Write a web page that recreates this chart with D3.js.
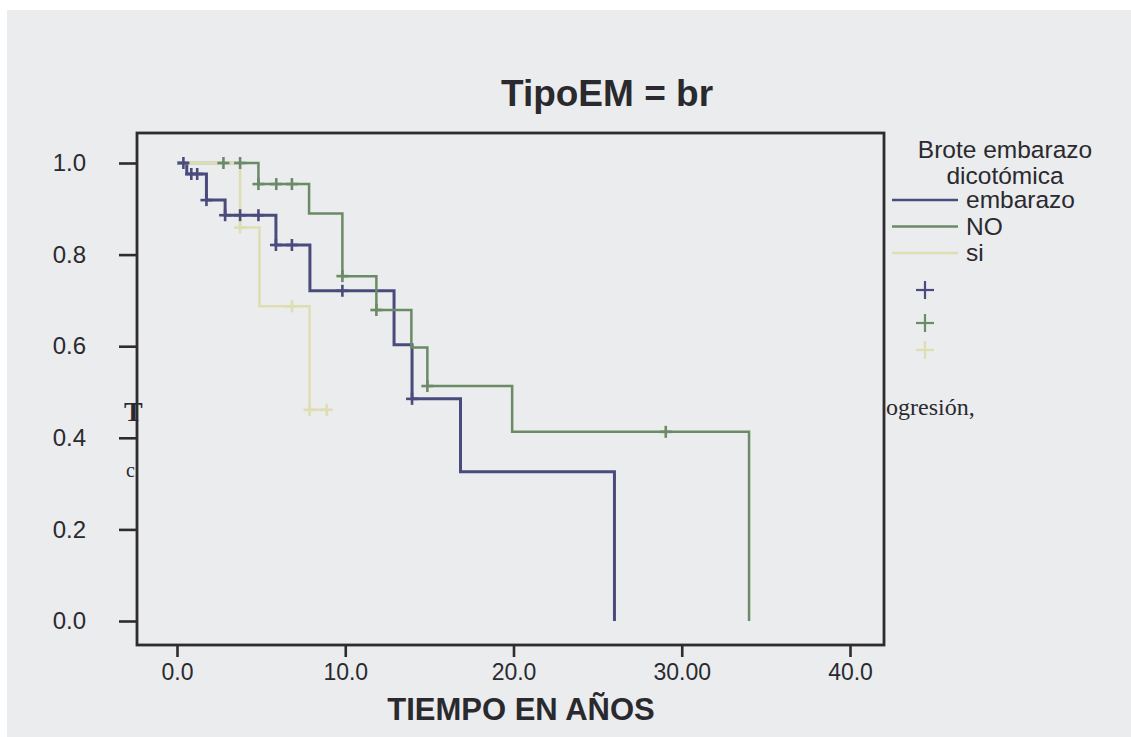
<!DOCTYPE html>
<html>
<head>
<meta charset="utf-8">
<script src="https://cdn.jsdelivr.net/npm/d3@7"></script>
<style>
  html, body { margin: 0; padding: 0; background: #ffffff; }
  #chart { width: 1131px; height: 737px; }
  text { font-family: "Liberation Sans", Arial, sans-serif; fill: #2a2a2e; }
</style>
</head>
<body>
<div id="chart"></div>
<script>
// -------------------------------
// Data
// -------------------------------
const groupNames = ["embarazo", "NO", "si"];

// embarazo
const embTimes = [0, 0.58, 1.75, 2.86, 5.88, 7.9, 12.9, 13.97, 16.85, 26.0];
const embSurv = [1.0, 0.976, 0.919, 0.886, 0.821, 0.721, 0.603, 0.485, 0.326, 0.0];
const embCensor = [0.38, 0.85, 1.2, 1.75, 2.86, 3.75, 4.84, 5.88, 6.83, 9.83, 13.97];

// NO
const noTimes = [0, 4.84, 7.85, 9.83, 11.85, 13.93, 14.88, 19.92, 34.0];
const noSurv = [1.0, 0.954, 0.89, 0.753, 0.679, 0.597, 0.513, 0.413, 0.0];
const noCensor = [2.76, 3.75, 4.84, 5.9, 6.83, 9.83, 11.85, 14.88, 29.05];

// si
const siTimes = [0, 3.75, 4.9, 7.88];
const siSurv = [1.0, 0.859, 0.687, 0.461];
const siCensor = [3.75, 6.83, 7.88, 8.9];

const xTicks = [0, 10, 20, 30, 40];
const xTickLabels = ["0.0", "10.0", "20.0", "30.00", "40.0"];
const yTicks = [0, 0.2, 0.4, 0.6, 0.8, 1.0];

const groupColors = ["#4a4b7c", "#6b8a66", "#dfddb2"];

// -------------------------------
// Layout
// -------------------------------
const width = 1131, height = 737;
const frame = { left: 137, right: 884, top: 133, bottom: 645 };

const svg = d3.select("#chart").append("svg")
  .attr("width", width)
  .attr("height", height);

// scanned paper
svg.append("rect")
  .attr("x", 7).attr("y", 10)
  .attr("width", width - 7).attr("height", height - 10)
  .attr("fill", "#eaecee");

// -------------------------------
// Scales
// -------------------------------
const x = d3.scaleLinear().domain([0, 40]).range([177, 850]);
const y = d3.scaleLinear().domain([0, 1]).range([621, 163]);

// bleed-through text from the scanned page
svg.append("text").attr("x", 886).attr("y", 415)
  .style("font-family", "'Liberation Serif', 'Times New Roman', serif")
  .style("font-size", "24px").text("ogresión,");
svg.append("text").attr("x", 124).attr("y", 421)
  .style("font-family", "'Liberation Serif', 'Times New Roman', serif")
  .style("font-size", "28px").style("font-weight", "bold").text("T");
svg.append("text").attr("x", 126).attr("y", 477)
  .style("font-family", "'Liberation Serif', 'Times New Roman', serif")
  .style("font-size", "20px").text("c");

// plot frame
svg.append("rect")
  .attr("x", frame.left).attr("y", frame.top)
  .attr("width", frame.right - frame.left)
  .attr("height", frame.bottom - frame.top)
  .attr("fill", "none")
  .attr("stroke", "#2f2c30")
  .attr("stroke-width", 2.8);

// -------------------------------
// Axes
// -------------------------------
const yAxis = d3.axisLeft(y)
  .tickValues(yTicks)
  .tickFormat(d3.format(".1f"))
  .tickSize(18)
  .tickPadding(33);

svg.append("g")
  .attr("transform", `translate(${frame.left},0)`)
  .call(yAxis)
  .call(g => g.select(".domain").remove())
  .call(g => g.selectAll("line").attr("stroke", "#2f2c30").attr("stroke-width", 2.6))
  .call(g => g.selectAll("text")
    .style("font-size", "24px")
    .style("font-family", "'Liberation Sans', Arial, sans-serif")
    .attr("fill", "#2a2a2e"));

const xAxis = d3.axisBottom(x)
  .tickValues(xTicks)
  .tickFormat((d, i) => xTickLabels[i])
  .tickSize(12)
  .tickPadding(7);

svg.append("g")
  .attr("transform", `translate(0,${frame.bottom})`)
  .call(xAxis)
  .call(g => g.select(".domain").remove())
  .call(g => g.selectAll("line").attr("stroke", "#2f2c30").attr("stroke-width", 2.6))
  .call(g => g.selectAll("text")
    .style("font-size", "23px")
    .style("font-family", "'Liberation Sans', Arial, sans-serif")
    .attr("fill", "#2a2a2e"));

// titles
svg.append("text")
  .attr("x", 607).attr("y", 106)
  .attr("text-anchor", "middle")
  .style("font-size", "37px").style("font-weight", "bold")
  .text("TipoEM = br");

svg.append("text")
  .attr("x", 521).attr("y", 720)
  .attr("text-anchor", "middle")
  .style("font-size", "31px").style("font-weight", "bold")
  .text("TIEMPO EN AÑOS");

// -------------------------------
// Survival curves
// -------------------------------
const groups = [
  { times: embTimes, surv: embSurv, censor: embCensor, width: 3 },
  { times: noTimes, surv: noSurv, censor: noCensor, width: 2.5 },
  { times: siTimes, surv: siSurv, censor: siCensor, width: 2.5 }
];

function survAt(g, t) {
  let s = g.surv[0];
  g.times.forEach((tt, i) => { if (tt <= t) s = g.surv[i]; });
  return s;
}

const stepLine = d3.line()
  .x(d => x(d[0]))
  .y(d => y(d[1]))
  .curve(d3.curveStepAfter);

groups.forEach((g, gi) => {
  const pts = g.times.map((t, i) => [t, g.surv[i]]);
  const endT = Math.max(d3.max(g.times), d3.max(g.censor));
  pts.push([endT, g.surv[g.surv.length - 1]]);
  svg.append("path")
    .datum(pts)
    .attr("d", stepLine)
    .attr("fill", "none")
    .attr("stroke", groupColors[gi])
    .attr("stroke-width", g.width);
});

// censoring marks
groups.forEach((g, gi) => {
  const marks = svg.append("g");
  g.censor.forEach(t => {
    const cx = x(t), cy = y(survAt(g, t));
    marks.append("line")
      .attr("x1", cx - 6).attr("x2", cx + 6).attr("y1", cy).attr("y2", cy);
    marks.append("line")
      .attr("x1", cx).attr("x2", cx).attr("y1", cy - 6).attr("y2", cy + 6);
  });
  marks.selectAll("line")
    .attr("stroke", groupColors[gi])
    .attr("stroke-width", 2.6);
});

// -------------------------------
// Legend
// -------------------------------
const legend = svg.append("g");
legend.append("text").attr("x", 1005).attr("y", 158)
  .attr("text-anchor", "middle").style("font-size", "24.5px")
  .text("Brote embarazo");
legend.append("text").attr("x", 1005).attr("y", 184)
  .attr("text-anchor", "middle").style("font-size", "24.5px")
  .text("dicotómica");

groupNames.forEach((name, i) => {
  const ly = 200 + i * 26.5;
  legend.append("line")
    .attr("x1", 892).attr("x2", 958).attr("y1", ly).attr("y2", ly)
    .attr("stroke", groupColors[i]).attr("stroke-width", 2.6);
  legend.append("text")
    .attr("x", 966).attr("y", ly + 8)
    .style("font-size", "24.5px")
    .text(name);
});

const crossY = [290, 323, 350];
groupNames.forEach((name, i) => {
  const cy = crossY[i];
  legend.append("line")
    .attr("x1", 916).attr("x2", 934).attr("y1", cy).attr("y2", cy)
    .attr("stroke", groupColors[i]).attr("stroke-width", 2.2);
  legend.append("line")
    .attr("x1", 925).attr("x2", 925).attr("y1", cy - 9).attr("y2", cy + 9)
    .attr("stroke", groupColors[i]).attr("stroke-width", 2.2);
});
</script>
</body>
</html>
